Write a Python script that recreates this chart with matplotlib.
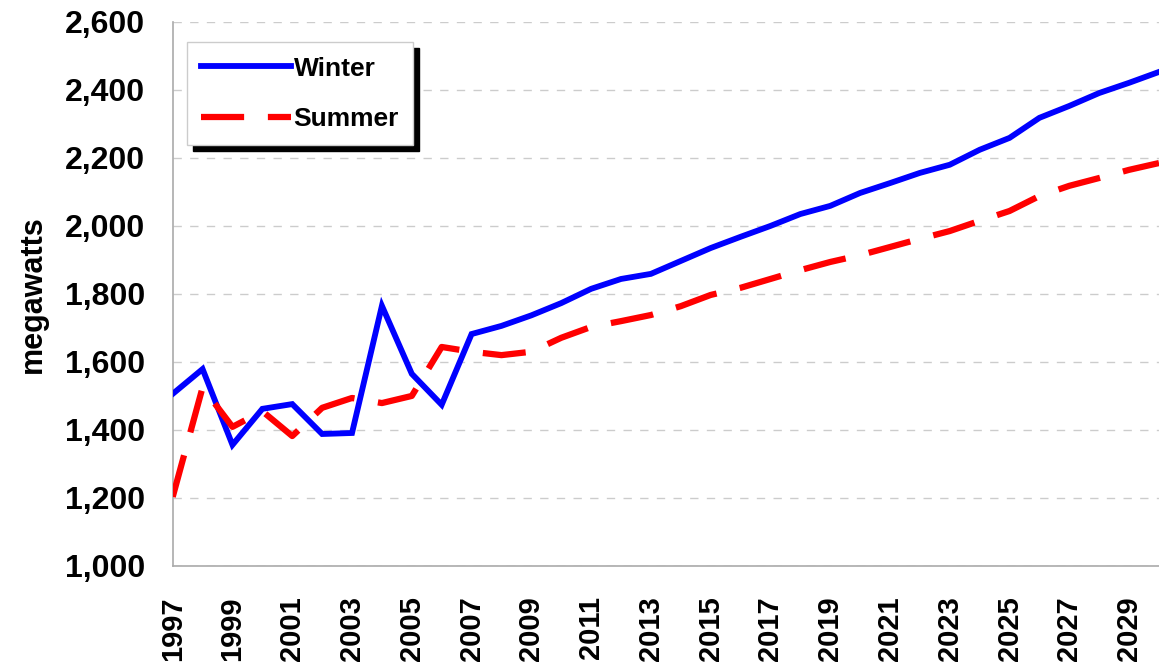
import matplotlib
matplotlib.use("Agg")
import matplotlib.pyplot as plt
from matplotlib.patches import Rectangle
from matplotlib.ticker import StrMethodFormatter

years = list(range(1997, 2031))
winter = [1506, 1579, 1356, 1462, 1476, 1388, 1391, 1765, 1565, 1474,
          1682, 1706, 1737, 1773, 1815, 1844, 1859, 1897, 1935, 1968,
          2000, 2035, 2059, 2097, 2126, 2156, 2180, 2224, 2259, 2318,
          2353, 2391, 2421, 2453]
summer = [1203, 1525, 1409, 1455, 1382, 1465, 1494, 1479, 1500, 1644,
          1630, 1620, 1630, 1671, 1703, 1720, 1738, 1764, 1797, 1818,
          1844, 1870, 1894, 1914, 1938, 1962, 1985, 2015, 2044, 2088,
          2118, 2141, 2165, 2185]
xticks = list(range(1997, 2030, 2))
yticks = list(range(1000, 2601, 200))

plt.rcParams["font.family"] = ["Liberation Sans", "DejaVu Sans"]
plt.rcParams["font.weight"] = "bold"

fig = plt.figure(figsize=(11.59, 6.65), dpi=100)
ax = fig.add_axes([0.149, 0.149, 0.851, 0.818])

ax.plot(years, winter, color="#0000ff", lw=4.2, label="Winter",
        solid_joinstyle="miter", zorder=3)
ax.plot(years, summer, color="#ff0000", lw=4.5, label="Summer",
        dashes=(6.9, 3.8), dash_capstyle="butt", zorder=3)

ax.set_xlim(1997, 2030)
ax.set_ylim(1000, 2600)
ax.set_xticks(xticks)
ax.set_xticklabels([str(y) for y in xticks], rotation=90, fontsize=21,
                   fontweight="bold")
ax.set_yticks(yticks)
ax.yaxis.set_major_formatter(StrMethodFormatter("{x:,.0f}"))
ax.tick_params(axis="y", length=0, pad=20, labelsize=23)
ax.tick_params(axis="x", length=0, pad=22)
for lbl in ax.get_yticklabels():
    lbl.set_fontweight("bold")
ax.set_ylabel("megawatts", fontsize=22, fontweight="bold")
ax.yaxis.set_label_coords(-0.127, 0.5)

ax.grid(axis="y", color="#cccccc", lw=1, dashes=(6, 6))
ax.set_axisbelow(True)
for side in ("top", "right"):
    ax.spines[side].set_visible(False)
for side in ("left", "bottom"):
    ax.spines[side].set_color("#aaaaaa")
    ax.spines[side].set_linewidth(1.2)

leg = ax.legend(loc="upper left", bbox_to_anchor=(0.0142, 0.963),
                fontsize=19, frameon=True, fancybox=False, framealpha=1,
                handlelength=3.4, handletextpad=0.1, labelspacing=1.0,
                borderpad=0.55, borderaxespad=0)
leg.get_frame().set_edgecolor("#cccccc")
leg.get_frame().set_linewidth(1)
leg.set_zorder(6)
for t in leg.get_texts():
    t.set_fontweight("bold")

# solid black drop shadow behind the legend box
fig.canvas.draw()
bb = leg.get_window_extent().transformed(fig.transFigure.inverted())
dx, dy = 6 / 1159, 6 / 665
shadow = Rectangle((bb.x0 + dx, bb.y0 - dy), bb.width, bb.height,
                   transform=fig.transFigure, color="black", zorder=5,
                   clip_on=False)
ax.add_artist(shadow)

fig.savefig("out.png", dpi=100)
